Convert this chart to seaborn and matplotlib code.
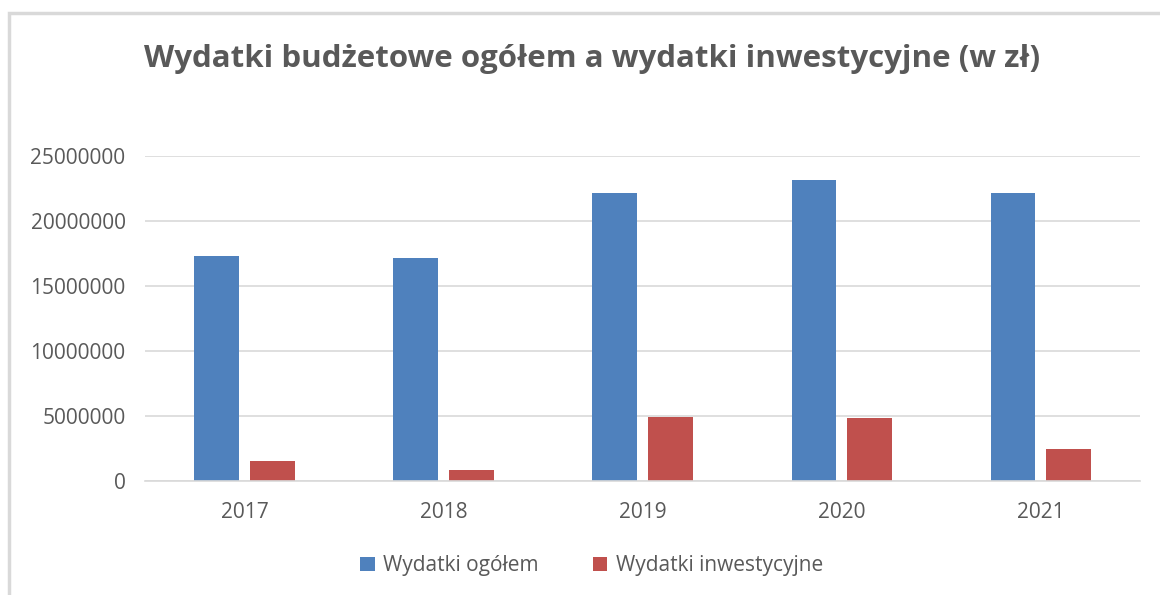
import matplotlib
matplotlib.use("Agg")
import matplotlib.pyplot as plt
import seaborn as sns
import pandas as pd
from matplotlib.patches import Rectangle

#%% data
years = ["2017", "2018", "2019", "2020", "2021"]
wydatki_ogolem = [17300000, 17150000, 22100000, 23150000, 22100000]
wydatki_inwest = [1540000, 850000, 4920000, 4850000, 2460000]
series_names = ["Wydatki ogółem", "Wydatki inwestycyjne"]

df = pd.DataFrame({
    "rok": years * 2,
    "wartosc": wydatki_ogolem + wydatki_inwest,
    "seria": [series_names[0]] * len(years) + [series_names[1]] * len(years),
})

sns.set_style("white")
plt.rcParams['font.family'] = ['Open Sans', 'DejaVu Sans']
txt_col = "#595959"

fig = plt.figure(figsize=(11.6, 5.95), dpi=100)
ax = fig.add_axes([0.125, 0.1916, 0.858, 0.5466])

sns.barplot(data=df, x="rok", y="wartosc", hue="seria", ax=ax,
            palette=["#4f81bd", "#c0504d"], width=0.56, gap=0.2,
            saturation=1, edgecolor="none")

ax.set_ylim(0, 25000000)
ax.set_xlim(-0.5, 4.5)
ax.set_yticks(range(0, 25000001, 5000000))
ax.set_yticklabels([str(v) for v in range(0, 25000001, 5000000)])
ax.yaxis.grid(True, color="#d9d9d9", linewidth=1.2)
ax.set_axisbelow(True)
for s in ["top", "right", "left"]:
    ax.spines[s].set_visible(False)
ax.spines["bottom"].set_color("#d9d9d9")
ax.spines["bottom"].set_linewidth(1.2)
ax.tick_params(axis="both", length=0, labelsize=15, colors=txt_col)
ax.tick_params(axis="x", pad=15)
ax.tick_params(axis="y", pad=14)
ax.set_xlabel("")
ax.set_ylabel("")

sns.move_legend(ax, loc="center", bbox_to_anchor=(0.51, 0.049),
                bbox_transform=fig.transFigure, ncol=2, frameon=False,
                title=None, fontsize=15, handlelength=0.7, handleheight=0.7,
                columnspacing=2.6, handletextpad=0.4)
for t in ax.get_legend().get_texts():
    t.set_color(txt_col)

fig.text(0.51, 0.9, "Wydatki budżetowe ogółem a wydatki inwestycyjne (w zł)",
         ha="center", va="center", fontsize=22.5, fontweight="bold", color=txt_col)

# frame around the chart area
fig.patches.append(Rectangle((9 / 1160, -0.05), 1.2, 1 - 13 / 595 + 0.05,
                             transform=fig.transFigure, fill=False,
                             edgecolor="#d9d9d9", linewidth=2.5))

fig.savefig("out.png", dpi=100)
